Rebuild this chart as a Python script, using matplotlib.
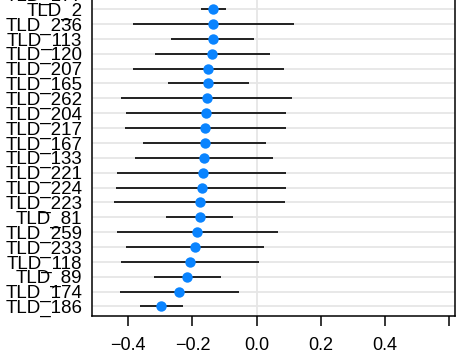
import matplotlib
matplotlib.use('Agg')  # Non-interactive backend
import matplotlib.pyplot as plt
import numpy as np

# rows from bottom to top (last one is cut off by the top of the picture)
labels = ["TLD_186", "TLD_174", "TLD_89", "TLD_118", "TLD_233", "TLD_259",
          "TLD_81", "TLD_223", "TLD_224", "TLD_221", "TLD_133", "TLD_167",
          "TLD_217", "TLD_204", "TLD_262", "TLD_165", "TLD_207", "TLD_120",
          "TLD_113", "TLD_236", "TLD_2", "TLD_177"]
estimate = [-0.298, -0.241, -0.216, -0.209, -0.192, -0.186,
            -0.177, -0.177, -0.170, -0.168, -0.163, -0.162,
            -0.160, -0.159, -0.156, -0.152, -0.150, -0.138,
            -0.136, -0.135, -0.135, -0.130]
lower = [-0.363, -0.425, -0.319, -0.424, -0.408, -0.434,
         -0.282, -0.444, -0.437, -0.434, -0.378, -0.353,
         -0.409, -0.408, -0.422, -0.277, -0.385, -0.318,
         -0.266, -0.384, -0.174, -0.170]
upper = [-0.231, -0.054, -0.111, 0.006, 0.022, 0.065,
         -0.073, 0.088, 0.093, 0.090, 0.051, 0.029,
         0.090, 0.092, 0.111, -0.025, 0.086, 0.041,
         -0.007, 0.116, -0.097, -0.090]
xticks = [-0.4, -0.2, 0.0, 0.2, 0.4, 0.6]
xtick_labels = ["\u22120.4", "\u22120.2", "0.0", "0.2", "0.4", ""]

plt.rcParams['font.family'] = ['Liberation Sans', 'DejaVu Sans']

fig = plt.figure(figsize=(4.66, 3.57), dpi=100)
# axes run past the top edge, the picture is a crop
ax = fig.add_axes([0.1974, 0.1148, 0.779, 0.928])

y = np.arange(len(labels))

for yy in y:
    ax.axhline(yy, color='#e6e6e6', lw=1.3, zorder=0)
ax.axvline(0, color='#e6e6e6', lw=1.3, zorder=0)

ax.hlines(y, lower, upper, color='black', lw=1.2, zorder=2)
ax.plot(estimate, y, 'o', color='#0a84ff', markersize=7.5, markeredgewidth=0, zorder=3)

ax.set_xlim(-0.513, 0.618)
ax.set_ylim(-0.64, len(labels) - 0.36)

ax.set_yticks(y)
ax.set_yticklabels(labels, fontsize=13.5)
ax.tick_params(axis='y', length=0, pad=7)

ax.set_xticks(xticks)
ax.set_xticklabels(xtick_labels, fontsize=13)
ax.tick_params(axis='x', length=7, width=1.1, direction='out', pad=8)

for side in ['left', 'right', 'bottom', 'top']:
    ax.spines[side].set_linewidth(1.1)

fig.savefig('out.png', dpi=100)
